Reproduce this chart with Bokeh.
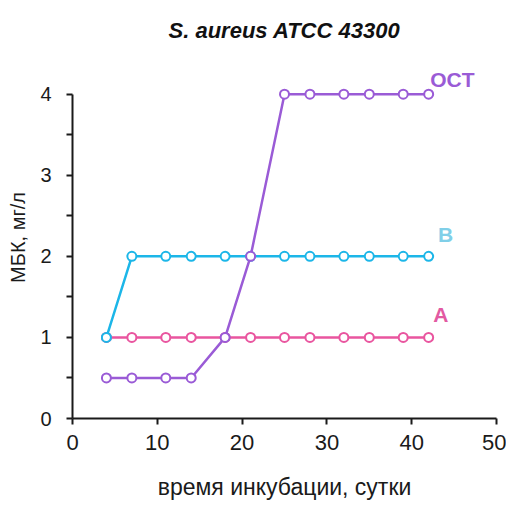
from bokeh.plotting import figure
from bokeh.models import Range1d, FixedTicker, Title
from bokeh.core.properties import value
from bokeh.embed import file_html
from bokeh.resources import INLINE

# data
days = [4, 7, 11, 14, 18, 21, 25, 28, 32, 35, 39, 42]
oct_vals = [0.5, 0.5, 0.5, 0.5, 1, 2, 4, 4, 4, 4, 4, 4]
b_vals = [1, 2, 2, 2, 2, 2, 2, 2, 2, 2, 2, 2]
a_vals = [1, 1, 1, 1, 1, 1, 1, 1, 1, 1, 1, 1]
series_names = ["OCT", "B", "A"]
x_ticks = [0, 10, 20, 30, 40, 50]
y_ticks = [0, 1, 2, 3, 4]
y_minor = [0.5, 1.5, 2.5, 3.5]

FONT = "Liberation Sans"
C_OCT = "#9a5bd6"
C_B = "#1cb6e8"
C_A = "#e9559f"

p = figure(width=506, height=502, output_backend="svg", toolbar_location=None,
           x_range=Range1d(0, 50), y_range=Range1d(0, 4.465),
           min_border_left=72, min_border_right=10, min_border_top=56, min_border_bottom=83)
p.outline_line_color = None
p.xgrid.grid_line_color = None
p.ygrid.grid_line_color = None
p.background_fill_color = "white"

t = Title(text="S. aureus ATCC 43300", align="center", text_font=FONT,
          text_font_size="22px", text_font_style="bold italic", text_color="#111111",
          standoff=28, offset=4)
p.add_layout(t, "above")

for vals, col in [(a_vals, C_A), (b_vals, C_B), (oct_vals, C_OCT)]:
    p.line(days, vals, line_color=col, line_width=2.5)
    p.scatter(days, vals, marker="circle", size=9, fill_color="white",
              line_color=col, line_width=2)

p.text(x=[44.8], y=[4.18], text=[series_names[0]], text_color=C_OCT,
       text_font=value(FONT), text_font_size="21px", text_font_style="bold",
       text_align="center", text_baseline="middle")
p.text(x=[44.0], y=[2.27], text=[series_names[1]], text_color="#80cfe8",
       text_font=value(FONT), text_font_size="21px", text_font_style="bold",
       text_align="center", text_baseline="middle")
p.text(x=[43.45], y=[1.28], text=[series_names[2]], text_color="#e25aa2",
       text_font=value(FONT), text_font_size="21px", text_font_style="bold",
       text_align="center", text_baseline="middle")

xa = p.xaxis[0]
xa.ticker = FixedTicker(ticks=x_ticks)
xa.bounds = (0, 50)
xa.axis_line_width = 2
xa.axis_line_color = "#1a1a1a"
xa.major_tick_line_width = 2
xa.major_tick_line_color = "#1a1a1a"
xa.major_tick_out = 6
xa.major_tick_in = 0
xa.minor_tick_line_color = None
xa.major_label_text_font = FONT
xa.major_label_text_font_size = "22px"
xa.major_label_text_color = "#1a1a1a"
xa.major_label_standoff = 10
xa.axis_label = "время инкубации, сутки"
xa.axis_label_text_font = FONT
xa.axis_label_text_font_size = "23px"
xa.axis_label_text_font_style = "normal"
xa.axis_label_text_color = "#1a1a1a"
xa.axis_label_standoff = 21

ya = p.yaxis[0]
ya.ticker = FixedTicker(ticks=y_ticks, minor_ticks=y_minor)
ya.bounds = (0, 4)
ya.axis_line_width = 2
ya.axis_line_color = "#1a1a1a"
ya.major_tick_line_width = 2
ya.major_tick_line_color = "#1a1a1a"
ya.major_tick_out = 6
ya.major_tick_in = 0
ya.minor_tick_line_width = 2
ya.minor_tick_line_color = "#1a1a1a"
ya.minor_tick_out = 6
ya.minor_tick_in = 0
ya.major_label_text_font = FONT
ya.major_label_text_font_size = "20px"
ya.major_label_text_color = "#1a1a1a"
ya.major_label_standoff = 15
ya.axis_label = "МБК, мг/л"
ya.axis_label_text_font = FONT
ya.axis_label_text_font_size = "20px"
ya.axis_label_text_font_style = "normal"
ya.axis_label_text_color = "#1a1a1a"
ya.axis_label_standoff = 8

open("out.html", "w").write(file_html(p, INLINE))
